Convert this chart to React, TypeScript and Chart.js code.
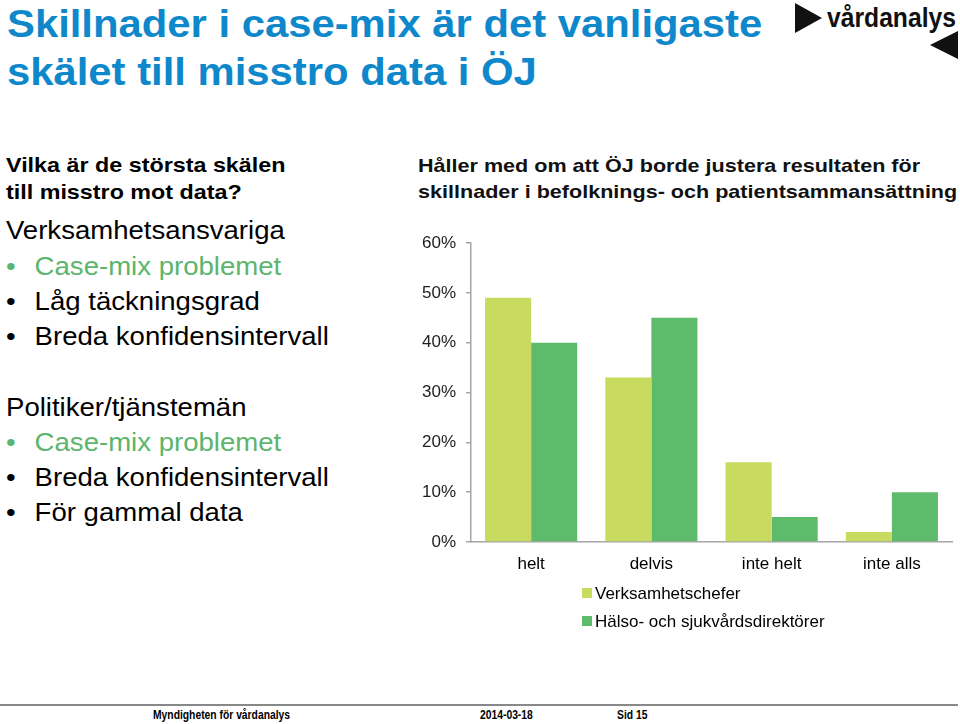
import React, { useEffect, useRef } from "react";
import { Chart, registerables } from "chart.js";

Chart.register(...registerables);

const categories = ["helt", "delvis", "inte helt", "inte alls"];
const seriesNames = ["Verksamhetschefer", "Hälso- och sjukvårdsdirektörer"];
const verksamhetschefer = [49, 33, 16, 2];
const halsoDirektorer = [40, 45, 5, 10];
const seriesColors = ["#c8db5f", "#5ebb6b"];
const yTicks = [0, 10, 20, 30, 40, 50, 60];

const FONT = "'Liberation Sans', Arial, Helvetica, sans-serif";
const NARROW = "'Liberation Sans Narrow', 'Liberation Sans', Arial, sans-serif";

const legendPlugin = {
  id: "vertLegend",
  afterDraw(chart: any) {
    const ctx = chart.ctx;
    const area = chart.chartArea;
    ctx.save();
    ctx.font = "17px " + FONT;
    const x0 = Math.round(area.left + 111);
    chart.data.datasets.forEach((d: any, i: number) => {
      const cy = area.bottom + 51 + i * 28;
      ctx.fillStyle = d.backgroundColor;
      ctx.fillRect(x0, cy - 5, 10, 10);
      ctx.fillStyle = "#000";
      ctx.textBaseline = "middle";
      ctx.textAlign = "left";
      ctx.fillText(d.label, x0 + 13, cy + 1);
    });
    ctx.restore();
  },
};

function BarChart() {
  const ref = useRef<HTMLCanvasElement>(null);
  useEffect(() => {
    if (!ref.current) return;
    const chart = new Chart(ref.current, {
      type: "bar",
      data: {
        labels: categories,
        datasets: [
          { label: seriesNames[0], data: verksamhetschefer, backgroundColor: seriesColors[0], borderWidth: 0 },
          { label: seriesNames[1], data: halsoDirektorer, backgroundColor: seriesColors[1], borderWidth: 0 },
        ],
      },
      options: {
        animation: false,
        responsive: false,
        maintainAspectRatio: false,
        layout: { padding: { top: 13, right: 8, bottom: 68, left: 0 } },
        plugins: {
          legend: { display: false },
          tooltip: { enabled: false },
          title: { display: false },
        },
        datasets: { bar: { categoryPercentage: 0.766, barPercentage: 1 } },
        scales: {
          x: {
            grid: { display: false, drawTicks: false },
            border: { display: true, color: "#a6a6a6", width: 1.5 },
            ticks: { color: "#000", font: { family: FONT, size: 17 }, padding: 12 },
            afterFit: (s: any) => { s.height = 40; },
          },
          y: {
            min: 0,
            max: 60,
            afterBuildTicks: (s: any) => { s.ticks = yTicks.map((v) => ({ value: v })); },
            grid: { display: true, drawOnChartArea: false, drawTicks: true, tickLength: 5, color: "#a6a6a6", lineWidth: 1.5 },
            border: { display: true, color: "#a6a6a6", width: 1.5 },
            ticks: {
              color: "#222",
              font: { family: FONT, size: 17 },
              padding: 10,
              callback: (v: any) => v + "%",
            },
            afterFit: (s: any) => { s.width = 71; s.paddingTop = 0; s.paddingBottom = 0; },
          },
        },
      },
      plugins: [legendPlugin],
    });
    return () => chart.destroy();
  }, []);
  return <canvas ref={ref} width={560} height={420} style={{ position: "absolute", left: 400, top: 230, width: 560, height: 420 }} />;
}

const green = "#5cb56c";

function Line({ text, color, top, bullet }: { text: string; color: string; top: number; bullet?: boolean }) {
  return (
    <div style={{ position: "absolute", left: 6, top, fontSize: 26, lineHeight: "30px", color, whiteSpace: "nowrap", transform: "scaleX(1.06)", transformOrigin: "left center" }}>
      {bullet ? <span style={{ display: "inline-block", width: 27 }}>•</span> : null}
      {text}
    </div>
  );
}

const footerStyle = (left: number): React.CSSProperties => ({
  position: "absolute",
  left,
  top: 708,
  fontSize: 12,
  lineHeight: "14px",
  fontWeight: "bold",
  fontFamily: NARROW,
  whiteSpace: "nowrap",
  transform: "scaleX(0.86)",
  transformOrigin: "left top",
});

export default function App() {
  return (
    <div style={{ position: "fixed", left: 0, top: 0, width: 960, height: 724, background: "#fff", fontFamily: FONT, overflow: "hidden" }}>
      <div style={{ position: "absolute", left: 7, top: 0, fontSize: 39, lineHeight: "48px", fontWeight: "bold", color: "#0f88cb", whiteSpace: "nowrap", transform: "scaleX(1.072)", transformOrigin: "left top" }}>
        Skillnader i case-mix är det vanligaste
        <br />
        skälet till misstro data i ÖJ
      </div>
      <svg width={170} height={64} style={{ position: "absolute", left: 790, top: 0 }}>
        <polygon points="5,3 32,18 5,33" fill="#111" />
        <text x={37} y={27} fontFamily={FONT} fontWeight="bold" fontSize={27} fill="#111" textLength={129} lengthAdjust="spacingAndGlyphs">vårdanalys</text>
        <polygon points="168,31 140,45 168,59" fill="#111" />
      </svg>

      <div style={{ position: "absolute", left: 6, top: 151, fontSize: 21, lineHeight: "27px", fontWeight: "bold", color: "#000", whiteSpace: "nowrap", transform: "scaleX(1.11)", transformOrigin: "left top" }}>
        Vilka är de största skälen
        <br />
        till misstro mot data?
      </div>
      <Line text="Verksamhetsansvariga" color="#000" top={215} />
      <Line text="Case-mix problemet" color={green} top={251} bullet />
      <Line text="Låg täckningsgrad" color="#000" top={286} bullet />
      <Line text="Breda konfidensintervall" color="#000" top={321} bullet />
      <Line text="Politiker/tjänstemän" color="#000" top={392} />
      <Line text="Case-mix problemet" color={green} top={427} bullet />
      <Line text="Breda konfidensintervall" color="#000" top={462} bullet />
      <Line text="För gammal data" color="#000" top={497} bullet />

      <div style={{ position: "absolute", left: 418, top: 153, fontSize: 19, lineHeight: "26px", fontWeight: "bold", color: "#111", whiteSpace: "nowrap", transform: "scaleX(1.135)", transformOrigin: "left top" }}>
        Håller med om att ÖJ borde justera resultaten för
        <br />
        skillnader i befolknings- och patientsammansättning
      </div>

      <BarChart />

      <div style={{ position: "absolute", left: 0, top: 704, width: 958, height: 2, background: "#888" }} />
      <div style={footerStyle(153)}>Myndigheten för vårdanalys</div>
      <div style={footerStyle(480)}>2014-03-18</div>
      <div style={footerStyle(617)}>Sid 15</div>
    </div>
  );
}
